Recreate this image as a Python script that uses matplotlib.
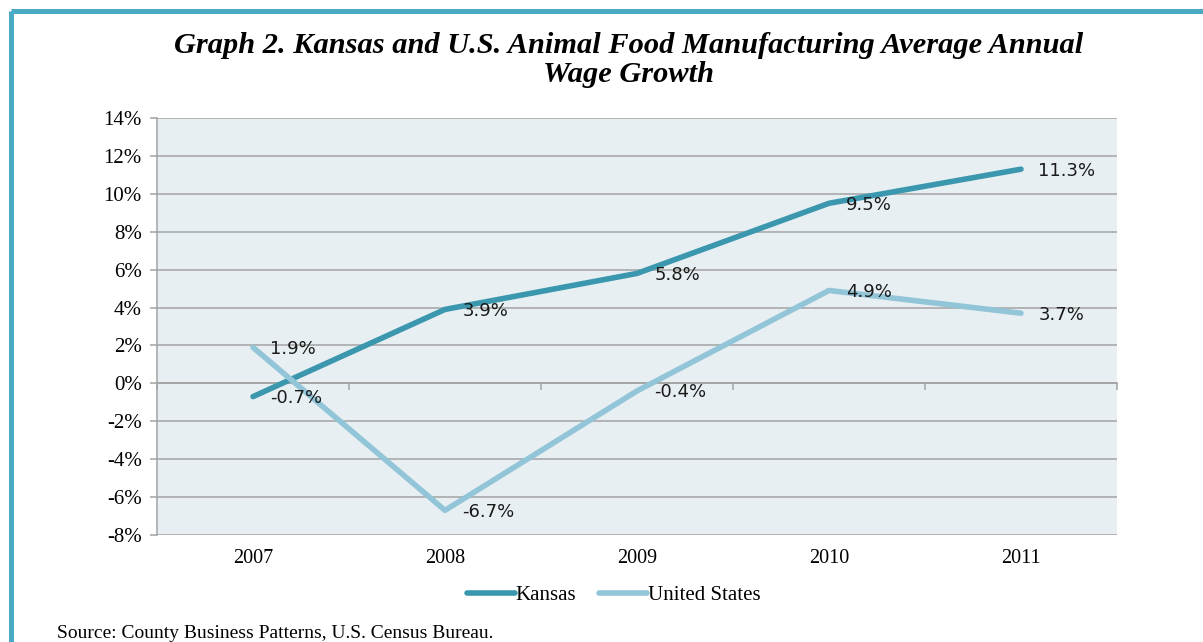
import matplotlib.pyplot as plt
from matplotlib.lines import Line2D
from matplotlib.ticker import FuncFormatter, MultipleLocator

years = ["2007", "2008", "2009", "2010", "2011"]
kansas = [-0.7, 3.9, 5.8, 9.5, 11.3]
united_states = [1.9, -6.7, -0.4, 4.9, 3.7]

kansas_color = "#3A97AE"
us_color = "#92C5D7"
frame_color = "#4AAAC4"
grid_color = "#A3A3A3"

fig = plt.figure(figsize=(12.03, 6.42), dpi=100)
ax = fig.add_axes([0.1305, 0.1667, 0.798, 0.6495])
ax.set_facecolor("#E7EFF3")

x = list(range(len(years)))
ax.plot(x, kansas, color=kansas_color, lw=4, solid_capstyle="round",
        label="Kansas", zorder=3)
ax.plot(x, united_states, color=us_color, lw=4, solid_capstyle="round",
        label="United States", zorder=3)

# data labels to the right of each point
for series in (kansas, united_states):
    for xi, v in zip(x, series):
        ax.annotate(f"{v:.1f}%", (xi, v), xytext=(12.5, -1), textcoords="offset points",
                    ha="left", va="center", fontsize=13, family="DejaVu Sans",
                    color="#1A1A1A", zorder=4)

ax.set_xlim(-0.5, len(years) - 0.5)
ax.set_ylim(-8, 14)
ax.yaxis.set_major_locator(MultipleLocator(2))
ax.yaxis.set_major_formatter(FuncFormatter(lambda v, p: f"{v:.0f}%"))
ax.grid(axis="y", color=grid_color, lw=1.1, zorder=1)
ax.set_axisbelow(True)

ax.set_xticks(x)
ax.set_xticklabels(years)
ax.tick_params(axis="x", length=0, pad=10, labelsize=14.5)
ax.tick_params(axis="y", length=5, color=grid_color, width=1.1, pad=6, labelsize=15)
for lab in ax.get_xticklabels() + ax.get_yticklabels():
    lab.set_family("Liberation Serif")

for s in ["top", "right", "bottom"]:
    ax.spines[s].set_visible(False)
ax.spines["left"].set_color(grid_color)
ax.spines["left"].set_linewidth(1.1)

# category axis crossing at zero
sec = ax.secondary_xaxis(0, transform=ax.transData)
sec.set_xticks([i + 0.5 for i in range(-1, len(years))])
sec.set_xticklabels([])
sec.tick_params(axis="x", length=5, color=grid_color, width=1.1)
sec.spines["bottom"].set_color(grid_color)
sec.spines["bottom"].set_linewidth(1.1)

ax.legend(loc="center", bbox_to_anchor=(0.476, -0.145), ncol=2,
          frameon=False, handlelength=2.3, handletextpad=0.05,
          columnspacing=1.1, borderpad=0,
          prop={"family": "Liberation Serif", "size": 15})

fig.text(0.5225, 0.9065, "Graph 2. Kansas and U.S. Animal Food Manufacturing Average Annual\nWage Growth",
         ha="center", va="center", fontsize=21.9, family="Liberation Serif",
         weight="bold", style="italic", linespacing=1.12)

fig.text(0.047, 0.014, "Source: County Business Patterns, U.S. Census Bureau.",
         ha="left", va="center", fontsize=14, family="Liberation Serif")

# page frame
fig.add_artist(Line2D([0.0091, 1.0], [0.9829, 0.9829], transform=fig.transFigure,
                      color=frame_color, lw=3.6, solid_capstyle="butt"))
fig.add_artist(Line2D([0.0091, 0.0091], [0.0, 0.9829], transform=fig.transFigure,
                      color=frame_color, lw=3.6, solid_capstyle="butt"))

fig.savefig("out.png", dpi=100)
